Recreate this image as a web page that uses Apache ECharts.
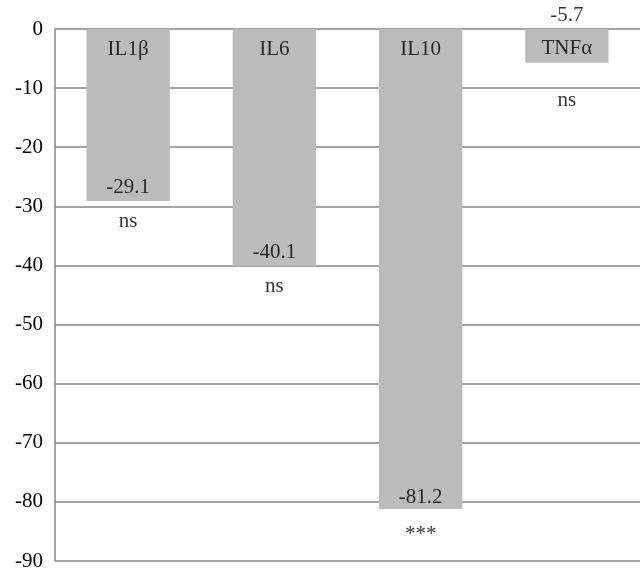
<!DOCTYPE html>
<html><head><meta charset="utf-8">
<script src="https://cdn.jsdelivr.net/npm/echarts@6/dist/echarts.min.js"></script>
<style>html,body{margin:0;padding:0;background:#fff}#c{width:640px;height:577px}</style>
</head><body><div id="c"></div>
<script>
var categories = ['IL1β', 'IL6', 'IL10', 'TNFα'];
var values = [-29.1, -40.1, -81.2, -5.7];
var significance = ['ns', 'ns', '***', 'ns'];
var yTicks = [0, -10, -20, -30, -40, -50, -60, -70, -80, -90];

var font = 'Liberation Serif, Times New Roman, serif';
var chart = echarts.init(document.getElementById('c'));

var nameData = categories.map(function (c, i) {
  return { value: [c, 0], label: { formatter: c, offset: [0, Math.abs(values[i]) < 10 ? 19 : 20] } };
});
var valData = values.map(function (v, i) {
  var short = Math.abs(v) < 10;
  return { value: [categories[i], short ? 0 : v],
           label: { formatter: String(v), offset: [0, short ? -14 : (Math.abs(v) > 60 ? -11 : -14)] } };
});
var sigData = values.map(function (v, i) {
  var short = Math.abs(v) < 10;
  return { value: [categories[i], v],
           label: { formatter: significance[i], offset: [0, short ? 38 : (significance[i] === '***' ? 26 : 20)] } };
});

function labelSeries(data) {
  return {
    type: 'scatter', data: data, symbolSize: 0, silent: true, z: 5,
    label: { show: true, position: 'inside', color: '#000', fontFamily: font, fontSize: 21 }
  };
}

chart.setOption({
  animation: false,
  grid: { left: 55, right: 0, top: 29, bottom: 16, containLabel: false },
  xAxis: {
    type: 'category', data: categories, position: 'top',
    axisLine: { show: false }, axisTick: { show: false }, axisLabel: { show: false }
  },
  yAxis: {
    type: 'value', min: -90, max: 0, interval: 10,
    axisLine: { show: true, lineStyle: { color: '#868686', width: 1.5 } },
    axisTick: { show: false },
    axisLabel: { color: '#000', fontFamily: font, fontSize: 21, margin: 12,
                 formatter: function (v) { return yTicks.indexOf(v) >= 0 ? String(v) : ''; } },
    splitLine: { show: true, lineStyle: { color: '#868686', width: 1.5 } }
  },
  series: [
    { type: 'bar', data: values, barWidth: '57%', itemStyle: { color: '#bbbbbb' }, z: 2 },
    labelSeries(nameData),
    labelSeries(valData),
    labelSeries(sigData)
  ]
});
</script></body></html>
